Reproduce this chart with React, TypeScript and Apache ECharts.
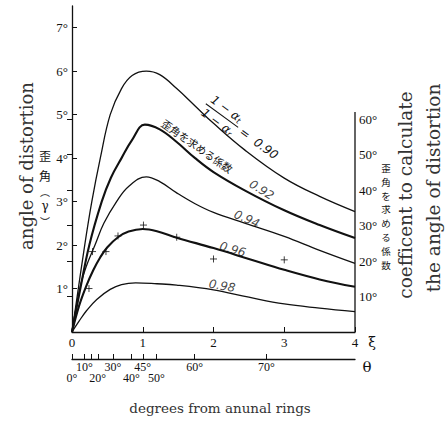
import React, { useEffect, useRef } from "react";
import * as echarts from "echarts";

// ---- data ----
const curveNames = ["0.90", "0.92", "0.94", "0.96", "0.98"];
const curve090 = [[0,0],[0.18,2.0],[0.28,3.0],[0.4,4.0],[0.54,5.0],[0.7,5.6],[0.85,5.9],[1.05,6.0],[1.24,5.92],[1.48,5.6],[1.74,5.2],[2.0,4.8],[2.44,4.19],[3.0,3.54],[3.5,3.12],[4.0,2.77]];
const curve092 = [[0,0],[0.1,0.85],[0.245,2.0],[0.42,3.0],[0.55,3.55],[0.7,4.0],[0.85,4.42],[1.03,4.77],[1.24,4.66],[1.48,4.37],[1.74,4.0],[2.0,3.68],[2.44,3.26],[3.0,2.8],[3.5,2.46],[4.0,2.16]];
const curve094 = [[0,0],[0.11,1.0],[0.2,1.5],[0.325,2.0],[0.45,2.5],[0.63,3.0],[0.8,3.35],[1.05,3.57],[1.24,3.46],[1.48,3.2],[1.74,2.95],[2.0,2.75],[2.45,2.5],[3.0,2.2],[3.5,1.88],[4.0,1.58]];
const curve096 = [[0,0],[0.1,0.6],[0.2,1.05],[0.3,1.42],[0.4,1.72],[0.5,1.95],[0.65,2.18],[0.8,2.31],[1.0,2.37],[1.2,2.32],[1.48,2.17],[2.0,1.93],[2.5,1.68],[3.0,1.43],[3.5,1.21],[4.0,1.04]];
const curve098 = [[0,0],[0.1,0.25],[0.21,0.5],[0.35,0.75],[0.54,0.98],[0.7,1.09],[0.9,1.13],[1.2,1.11],[1.48,1.08],[2.0,0.97],[2.5,0.8],[3.0,0.645],[3.5,0.55],[4.0,0.47]];
const curves = [curve090, curve092, curve094, curve096, curve098];
const measured = [[0.24,1.0],[0.29,1.85],[0.48,1.85],[0.65,2.21],[1.01,2.46],[1.48,2.18],[2.0,1.68],[3.0,1.66]];

const xTicks = [0, 1, 2, 3, 4];
const leftTicks = [1, 2, 3, 4, 5, 6, 7];
const rightTicks = [10, 20, 30, 40, 50, 60];
const rightAxisTop = 62;
const thetaTicks = [0, 10, 15, 20, 30, 40, 45, 50, 60, 70];
const thetaRow1 = [10, 30, 45, 60, 70];
const thetaRow2 = [0, 20, 40, 50];

const X_MAX = 4;
const Y_MAX = 7.5;
const RIGHT_PER_LEFT = 60 / 4.9;

const tanDeg = (d: number) => Math.tan((d * Math.PI) / 180);
const toDeg = (v: number) => Math.round((Math.atan(v) * 180) / Math.PI) + "°";

const serif = "DejaVu Serif";
const tickFont = "Liberation Serif";
const jp = "Noto Sans CJK JP";
const ink = "#111";
const rightJp = "歪角を求める係数";

// label anchors (data coords) for curve value labels
const curveLabelAnchors = [
  { name: "0.92", at: [2.68, 3.27], rotate: -32 },
  { name: "0.94", at: [2.47, 2.6], rotate: -24 },
  { name: "0.96", at: [2.27, 1.9], rotate: -16 },
  { name: "0.98", at: [2.12, 1.06], rotate: -10 },
];

export default function App() {
  const ref = useRef<HTMLDivElement>(null);
  useEffect(() => {
    if (!ref.current) return;
    const chart = echarts.init(ref.current, undefined, { renderer: "svg" });
    const axisLine = { show: true, onZero: false, lineStyle: { color: ink, width: 1.3 } };
    const tickLabel = { color: ink, fontFamily: tickFont, fontSize: 13 };
    const option: any = {
      animation: false,
      backgroundColor: "#fff",
      grid: { left: 72, right: 92, top: 6, bottom: 90 },
      xAxis: [
        {
          type: "value", min: 0, max: X_MAX, position: "bottom",
          axisLine,
          axisTick: { show: true, inside: true, length: 5, customValues: xTicks, lineStyle: { color: ink } },
          axisLabel: { ...tickLabel, margin: 4, customValues: xTicks },
          splitLine: { show: false },
        },
        {
          type: "value", min: 0, max: X_MAX, position: "bottom", offset: 27,
          axisLine,
          axisTick: { show: true, inside: true, length: 5, customValues: thetaTicks.map(tanDeg), lineStyle: { color: ink } },
          axisLabel: { ...tickLabel, fontSize: 12, margin: 2, customValues: thetaRow1.map(tanDeg), formatter: toDeg },
          splitLine: { show: false },
        },
        {
          type: "value", min: 0, max: X_MAX, position: "bottom", offset: 27,
          axisLine: { show: false },
          axisTick: { show: false },
          axisLabel: { ...tickLabel, fontSize: 12, margin: 13, customValues: thetaRow2.map(tanDeg), formatter: toDeg },
          splitLine: { show: false },
        },
      ],
      yAxis: [
        {
          type: "value", min: 0, max: Y_MAX, position: "left",
          axisLine,
          axisTick: { show: true, inside: true, length: 5, customValues: leftTicks, lineStyle: { color: ink } },
          axisLabel: { ...tickLabel, margin: 4, customValues: leftTicks, formatter: (v: number) => v + "°" },
          splitLine: { show: false },
        },
        {
          type: "value", min: 0, max: Y_MAX * RIGHT_PER_LEFT, position: "right",
          axisLine: { show: false },
          axisTick: { show: true, inside: true, length: 5, customValues: rightTicks, lineStyle: { color: ink } },
          axisLabel: { ...tickLabel, margin: 4, customValues: rightTicks, formatter: (v: number) => v + "°" },
          splitLine: { show: false },
        },
      ],
      series: [
        ...curves.map((c, i) => ({
          type: "line", name: curveNames[i], data: c, showSymbol: false, symbol: "none",
          smooth: 0.4,
          lineStyle: { color: ink, width: i === 1 || i === 3 ? 2.1 : 1.3 },
          silent: true,
        })),
        {
          type: "line", name: "right axis", yAxisIndex: 1, data: [[X_MAX, 0], [X_MAX, rightAxisTop]],
          symbol: "none", lineStyle: { color: ink, width: 1.3 }, silent: true,
        },
        {
          type: "scatter", name: "measured", data: measured,
          symbol: "path://M5,0L5,10M0,5L10,5", symbolSize: 7,
          itemStyle: { color: "rgba(0,0,0,0)", borderColor: ink, borderWidth: 1 },
          silent: true,
        },
        {
          type: "scatter", name: "labels", symbolSize: 0, silent: true,
          data: curveLabelAnchors.map((a) => ({
            value: a.at,
            label: {
              show: true, position: "inside", formatter: a.name, rotate: a.rotate,
              color: ink, fontFamily: "DejaVu Sans", fontStyle: "italic", fontSize: 12,
            },
          })),
        },
      ],
    };
    chart.setOption(option);

    const px = (p: number[]) => chart.convertToPixel({ xAxisIndex: 0, yAxisIndex: 0 }, p) as number[];
    const frac = px([2.12, 4.98]);
    const jpLab = px([1.77, 4.28]);
    const rot = (-36 * Math.PI) / 180;
    const fracRich = {
      a: { fontSize: 12, fontFamily: "DejaVu Sans", fontStyle: "italic", fill: ink },
      b: { fontSize: 8, fontFamily: "DejaVu Sans", fontStyle: "italic", fill: ink, padding: [6, 0, 0, 0] },
    };
    const txt = (x: number, y: number, text: string, extra: any = {}, rotation = 0) => ({
      type: "text", x, y, rotation, silent: true,
      style: { text, fill: ink, textAlign: "center", textVerticalAlign: "middle", ...extra },
    });
    const rightJpChars = rightJp.split("").map((ch, i) =>
      txt(386, 168 + i * 13.8, ch, { fontSize: 9.5, fontFamily: jp })
    );
    chart.setOption({
      graphic: [
        {
          type: "group", x: frac[0], y: frac[1], rotation: rot, silent: true,
          children: [
            { type: "text", x: 0, y: -8, style: { text: "{a|1 − α}{b|t}", rich: fracRich, textAlign: "center", textVerticalAlign: "middle" } },
            { type: "line", shape: { x1: -20, y1: 0, x2: 20, y2: 0 }, style: { stroke: ink, lineWidth: 1 } },
            { type: "text", x: 0, y: 8, style: { text: "{a|1 − α}{b|r}", rich: fracRich, textAlign: "center", textVerticalAlign: "middle" } },
            { type: "text", x: 24, y: 1, style: { text: "=  0.90", fontSize: 12, fontFamily: "DejaVu Sans", fontStyle: "italic", fill: ink, textAlign: "left", textVerticalAlign: "middle" } },
          ],
        },
        txt(jpLab[0], jpLab[1], "歪角を求める係数", { fontSize: 10.5, fontFamily: jp }, (-35 * Math.PI) / 180),
        txt(26, 166, "angle of distortion", { fontSize: 18, fontFamily: serif, fill: "#333" }, Math.PI / 2),
        txt(405, 195, "coefficent to calculate", { fontSize: 18.5, fontFamily: serif, fill: "#333" }, Math.PI / 2),
        txt(433, 188, "the angle of distortion", { fontSize: 18.5, fontFamily: serif, fill: "#333" }, Math.PI / 2),
        txt(220, 408, "degrees from anunal rings", { fontSize: 13.5, fontFamily: serif, fill: "#333" }),
        txt(45, 155, "歪", { fontSize: 12, fontFamily: jp }),
        txt(45, 175, "角", { fontSize: 12, fontFamily: jp }),
        txt(45, 191, "︵", { fontSize: 10, fontFamily: jp }),
        txt(45, 206, "γ", { fontSize: 12, fontFamily: serif }),
        txt(45, 221, "︶", { fontSize: 10, fontFamily: jp }),
        ...rightJpChars,
        txt(372, 342, "ξ", { fontSize: 14, fontFamily: serif }),
        txt(367, 367, "θ", { fontSize: 15, fontFamily: serif }),
      ],
    });
    return () => chart.dispose();
  }, []);
  return (
    <div
      ref={ref}
      style={{ position: "fixed", left: 0, top: 0, width: 447, height: 422, background: "#fff" }}
    />
  );
}
